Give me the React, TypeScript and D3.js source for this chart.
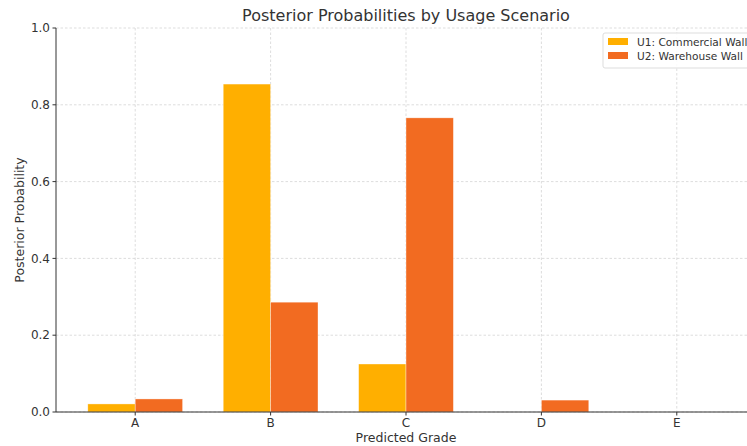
import React, { useEffect, useRef } from 'react';
import * as d3 from 'd3';

const grades = ['A', 'B', 'C', 'D', 'E'];
const seriesNames = ['U1: Commercial Wall', 'U2: Warehouse Wall'];
const u1Values = [0.021, 0.854, 0.125, 0, 0];
const u2Values = [0.034, 0.286, 0.766, 0.031, 0];
const yTicks = [0, 0.2, 0.4, 0.6, 0.8, 1.0];
const colors = ['#FFAF00', '#F26B21'];

const W = 747;
const H = 446;

const App: React.FC = () => {
  const svgRef = useRef<SVGSVGElement | null>(null);

  useEffect(() => {
    const svg = d3.select(svgRef.current);
    svg.selectAll('*').remove();

    const left = 56;
    const top = 28;
    const bottom = 412;
    const barW = 0.35;

    // linear x in category units, like matplotlib's default margins
    const x = d3.scaleLinear().domain([-0.585, 4.585]).range([left, 756]);
    const y = d3.scaleLinear().domain([0, 1]).range([bottom, top]);
    const font = 'DejaVu Sans, sans-serif';

    const g = svg.append('g');

    // grid
    g.selectAll('.vgrid')
      .data(grades)
      .enter()
      .append('line')
      .attr('x1', (_, i) => x(i))
      .attr('x2', (_, i) => x(i))
      .attr('y1', top)
      .attr('y2', bottom)
      .attr('stroke', '#cfcfcf')
      .attr('stroke-width', 0.7)
      .attr('stroke-dasharray', '2.5,2');

    g.selectAll('.hgrid')
      .data(yTicks)
      .enter()
      .append('line')
      .attr('x1', left)
      .attr('x2', W)
      .attr('y1', (d) => y(d))
      .attr('y2', (d) => y(d))
      .attr('stroke', '#cfcfcf')
      .attr('stroke-width', 0.7)
      .attr('stroke-dasharray', '2.5,2');

    const series = [u1Values, u2Values];
    series.forEach((vals, s) => {
      g.selectAll(`.bar${s}`)
        .data(vals)
        .enter()
        .append('rect')
        .attr('x', (_, i) => x(i + (s === 0 ? -barW : 0)))
        .attr('width', x(barW) - x(0))
        .attr('y', (d) => y(d))
        .attr('height', (d) => y(0) - y(d))
        .attr('fill', colors[s])
        .attr('stroke', '#fff')
        .attr('stroke-opacity', 0.6)
        .attr('stroke-width', 0.6);
    });

    // axes
    g.append('line')
      .attr('x1', left).attr('x2', left)
      .attr('y1', top).attr('y2', bottom)
      .attr('stroke', '#333').attr('stroke-width', 1);
    g.append('line')
      .attr('x1', left).attr('x2', W)
      .attr('y1', bottom).attr('y2', bottom)
      .attr('stroke', '#333').attr('stroke-width', 1);

    yTicks.forEach((t) => {
      g.append('line')
        .attr('x1', left - 3.5).attr('x2', left)
        .attr('y1', y(t)).attr('y2', y(t))
        .attr('stroke', '#333');
      g.append('text')
        .attr('x', left - 6)
        .attr('y', y(t))
        .attr('dy', '0.35em')
        .attr('text-anchor', 'end')
        .attr('font-family', font)
        .attr('font-size', 12)
        .attr('fill', '#333')
        .text(t.toFixed(1));
    });

    grades.forEach((c, i) => {
      g.append('line')
        .attr('x1', x(i)).attr('x2', x(i))
        .attr('y1', bottom).attr('y2', bottom + 3.5)
        .attr('stroke', '#333');
      g.append('text')
        .attr('x', x(i))
        .attr('y', bottom + 15)
        .attr('text-anchor', 'middle')
        .attr('font-family', font)
        .attr('font-size', 12)
        .attr('fill', '#333')
        .text(c);
    });

    svg.append('text')
      .attr('x', 406)
      .attr('y', 21)
      .attr('text-anchor', 'middle')
      .attr('font-family', font)
      .attr('font-size', 16)
      .attr('fill', '#333')
      .text('Posterior Probabilities by Usage Scenario');

    svg.append('text')
      .attr('x', 406)
      .attr('y', 442)
      .attr('text-anchor', 'middle')
      .attr('font-family', font)
      .attr('font-size', 12.5)
      .attr('fill', '#333')
      .text('Predicted Grade');

    svg.append('text')
      .attr('transform', `translate(24,${(top + bottom) / 2}) rotate(-90)`)
      .attr('text-anchor', 'middle')
      .attr('font-family', font)
      .attr('font-size', 12.5)
      .attr('fill', '#333')
      .text('Posterior Probability');

    // legend
    const lg = svg.append('g').attr('transform', 'translate(603,33)');
    lg.append('rect')
      .attr('width', 160)
      .attr('height', 35)
      .attr('rx', 2)
      .attr('fill', '#fff')
      .attr('fill-opacity', 0.85)
      .attr('stroke', '#ddd');
    seriesNames.forEach((n, i) => {
      lg.append('rect')
        .attr('x', 5)
        .attr('y', 5 + i * 14)
        .attr('width', 20)
        .attr('height', 7)
        .attr('fill', colors[i]);
      lg.append('text')
        .attr('x', 34)
        .attr('y', 12.5 + i * 14)
        .attr('font-family', font)
        .attr('font-size', 10.6)
        .attr('fill', '#333')
        .text(n);
    });
  }, []);

  return (
    <svg
      ref={svgRef}
      width={W}
      height={H}
      style={{ position: 'absolute', left: 0, top: 0, background: '#fff' }}
    />
  );
};

export default App;
